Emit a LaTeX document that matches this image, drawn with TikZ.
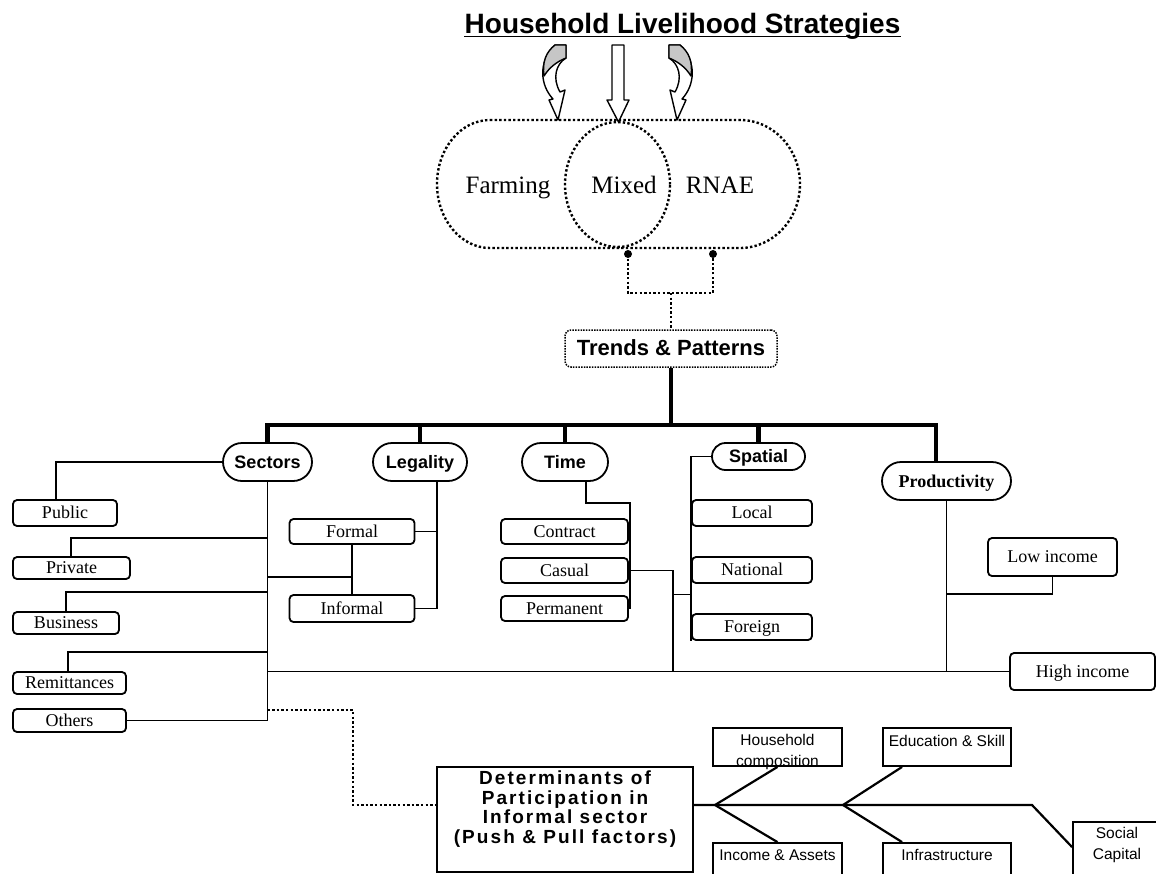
\documentclass[tikz,border=0pt]{standalone}
\usepackage{fontspec}
\setmainfont{Liberation Serif}
\setsansfont{Liberation Sans}
\newfontfamily\spacedsans[LetterSpace=11]{Liberation Sans}
\usetikzlibrary{calc,shapes.geometric,shapes.misc}
\newcommand\fsz[1]{\fontsize{#1}{#1}\selectfont}
\begin{document}
\begin{tikzpicture}[x=1pt,y=-1pt,
  ln/.style={line width=1.8pt},
  thk/.style={line width=4.5pt},
  dotl/.style={line width=2.4pt, dash pattern=on 2.4pt off 2.2pt},
  sbox/.style={draw, line width=1.8pt, rounded corners=4pt, inner sep=0pt, text height=13pt, text depth=1.5pt, font=\rmfamily\fsz{18}},
  oval/.style={draw, rounded rectangle, line width=1.8pt, inner sep=0pt, text height=14pt, text depth=2pt, font=\sffamily\bfseries\fsz{18}},
  fbx/.style={draw, line width=1.8pt, inner sep=0pt},
  ftext/.style={font=\sffamily\fontsize{15.5}{20.5}\selectfont, align=center, inner sep=0pt},
  bigtxt/.style={font=\rmfamily\fsz{25}, inner sep=0pt, anchor=base},
  twistarrow/.pic={
    \draw[line width=1.4pt, fill=white, line join=round] (0,0) -- (11,0) -- (11,13) .. controls (1,19) and (-3,33) .. (5,47) -- (10,45) -- (3,75) -- (-6,55) -- (-2,54) .. controls (-15,40) and (-17,17) .. (0,0) -- cycle;
    \draw[line width=1.4pt, fill=gray!45, line join=round] (0,0) -- (11,0) -- (11,13) .. controls (1,17) and (-6,23) .. (-11,31) .. controls (-13,17) and (-9,7) .. (0,0) -- cycle;
  }
]
\useasboundingbox (0,0) rectangle (1156,873);
\clip (0,0) rectangle (1156,873);
\fill[white] (0,0) rectangle (1156,873);

% ---------- title ----------
\node[font=\sffamily\bfseries\fsz{28}, anchor=base, inner sep=0pt] (title) at (682.5,33) {Household Livelihood Strategies};
\draw[line width=1.8pt] ($(title.base west)+(0,3.5)$) -- ($(title.base east)+(0,3.5)$);

% ---------- arrows ----------
\pic (la) at (555,45) {twistarrow};
\pic[xscale=-1] (ra) at (680,45) {twistarrow};
\draw[line width=1.4pt, fill=white, line join=round] (612,45) -- (624,45) -- (624,100) -- (629,100) -- (618.5,122) -- (607,100) -- (612,100) -- cycle;

% ---------- ellipses ----------
\draw[dotl] (490,120) -- (740,120) arc[start angle=-90,end angle=90,x radius=60,y radius=64] -- (490,248) arc[start angle=90,end angle=270,x radius=53,y radius=64] -- cycle;
\node[ellipse, draw, dotl, minimum width=105pt, minimum height=125pt, inner sep=0pt] (mixed) at (617.5,184.5) {};
\node[bigtxt] (farm) at (508,193) {Farming};
\node[bigtxt] (mixedt) at (624,193) {Mixed};
\node[bigtxt] (rnae) at (720,193) {RNAE};

\coordinate (d1) at (628,254);
\coordinate (d2) at (713,254);
\coordinate (dm) at (671,293);
\fill (d1) circle[radius=4];
\fill (d2) circle[radius=4];
\draw[dotl] (d1) -- (d1 |- dm) -- (d2 |- dm) -- (d2);

% ---------- trends ----------
\node[draw, line width=1.5pt, dash pattern=on 1.5pt off 1.2pt, rounded corners=6pt, minimum width=212pt, minimum height=37pt, inner sep=0pt, text height=16pt, text depth=2.5pt, font=\sffamily\bfseries\fsz{22}] (trends) at (671,348.5) {Trends \& Patterns};
\draw[dotl] (dm) -- (trends.north);

% ---------- category ovals ----------
\node[oval, minimum width=89pt, minimum height=38pt] (sectors) at (267.5,462) {Sectors};
\node[oval, minimum width=94pt, minimum height=38pt] (legality) at (420,462) {Legality};
\node[oval, minimum width=86pt, minimum height=38pt] (time) at (565,462) {Time};
\node[oval, minimum width=93pt, minimum height=27pt] (spatial) at (758.5,456.5) {Spatial};
\node[oval, minimum width=129pt, minimum height=38pt, font=\rmfamily\bfseries\fsz{18}] (productivity) at (946.5,481) {Productivity};

\coordinate (barL) at (267.5,425);
\coordinate (barR) at (936,425);
\draw[thk] (sectors.north) -- (barL) -- (barR) -- (barR |- productivity.north);
\draw[thk] (trends.south) -- (trends.south |- barL);
\draw[thk] (legality.north) -- (legality.north |- barL);
\draw[thk] (time.north) -- (time.north |- barL);
\draw[thk] (spatial.north) -- (spatial.north |- barL);

% ---------- sector boxes ----------
\node[sbox, minimum width=104pt, minimum height=26pt] (public) at (65,513) {Public};
\node[sbox, minimum width=117pt, minimum height=22pt] (private) at (71.5,568) {Private};
\node[sbox, minimum width=106pt, minimum height=22pt] (business) at (66,623) {Business};
\node[sbox, minimum width=113pt, minimum height=22pt] (remit) at (69.5,683) {Remittances};
\node[sbox, minimum width=113pt, minimum height=23pt] (others) at (69.5,720.5) {Others};

\coordinate (sp1) at (267.5,538);
\coordinate (sp2) at (267.5,577);
\coordinate (sp3) at (267.5,592);
\coordinate (sp4) at (267.5,652);
\coordinate (sp5) at (267.5,671.5);
\coordinate (sp6) at (267.5,710);
\coordinate (sp7) at (267.5,720.5);
\draw[ln] (sectors.west) -| ($(public.north west)+(44,0)$);
\draw[ln] (sectors.south) -- (sp7) -- (others.east);
\draw[ln] (sp1) -| ($(private.north west)+(59,0)$);
\draw[ln] (sp3) -| ($(business.north west)+(54,0)$);
\draw[ln] (sp4) -| ($(remit.north west)+(56,0)$);

% ---------- legality ----------
\node[sbox, minimum width=125pt, minimum height=25pt] (formal) at (352,531.5) {Formal};
\node[sbox, minimum width=125pt, minimum height=27pt] (informal) at (352,608.5) {Informal};
\coordinate (lv) at ($(legality.south)+(17,0)$);
\draw[ln] (sp2) -- (sp2 -| formal.south);
\draw[ln] (formal.south) -- (informal.north);
\draw[ln] (lv) |- (informal.east);
\draw[ln] (formal.east) -- (formal.east -| lv);

% ---------- time ----------
\node[sbox, minimum width=127pt, minimum height=25pt] (contract) at (564.5,531.5) {Contract};
\node[sbox, minimum width=127pt, minimum height=25pt] (casual) at (564.5,570.5) {Casual};
\node[sbox, minimum width=127pt, minimum height=25pt] (permanent) at (564.5,608.5) {Permanent};
\coordinate (tv) at (630,503);
\coordinate (tj) at (673,671.5);
\coordinate (sj) at (692,594);
\draw[ln] ($(time.south)+(21,0)$) |- (tv) -- (tv |- permanent.east);
\draw[ln] (casual.east) -| (tj);
\draw[line width=1pt] (tj |- sj) -- (sj);

% ---------- spatial ----------
\node[sbox, minimum width=120pt, minimum height=26pt] (local) at (752,513) {Local};
\node[sbox, minimum width=120pt, minimum height=26pt] (national) at (752,570) {National};
\node[sbox, minimum width=120pt, minimum height=26pt] (foreign) at (752,627) {Foreign};
\draw[ln] (spatial.west) -| (foreign.south west);

% ---------- productivity ----------
\node[sbox, minimum width=129pt, minimum height=38pt] (lowincome) at (1052.5,557) {Low income};
\node[sbox, minimum width=145pt, minimum height=37pt] (highincome) at (1082.5,671.5) {High income};
\coordinate (pj) at (946.5,594);
\draw[ln] (productivity.south) -- (productivity.south |- highincome.west);
\draw[ln] (lowincome.south) |- (pj);

% main lower line
\draw[ln] (sp5) -- (highincome.west);

% ---------- determinants ----------
\node[fbx, minimum width=256pt, minimum height=105pt] (det) at (565,819.5) {};
\node[font=\spacedsans\bfseries\fontsize{19}{19.7}\selectfont, align=center, inner sep=0pt] (dett) at (565,809) {Determinants of\\Participation in\\Informal sector\\(Push \& Pull factors)};
\coordinate (b1) at (715,805);
\coordinate (b2) at (843,805);
\coordinate (b3) at (1032,805);
\coordinate (dc) at (353,710);
\draw[dotl] (sp6) -- (dc) |- (det.west |- b1);

\node[fbx, minimum width=129pt, minimum height=38pt] (hh) at (777.5,747) {};
\node[ftext] (hht) at (777.5,752) {Household\\composition};
\node[fbx, minimum width=128pt, minimum height=38pt] (edu) at (947,747) {};
\node[ftext] (edut) at (947,741) {Education \& Skill};
\node[fbx, minimum width=129pt, minimum height=54pt] (inc) at (777.5,870) {};
\node[ftext] (inct) at (777.5,855) {Income \& Assets};
\node[fbx, minimum width=128pt, minimum height=54pt] (infra) at (947,870) {};
\node[ftext] (infrat) at (947,855) {Infrastructure};
\node[fbx, minimum width=98pt, minimum height=72pt] (social) at (1122,858) {};
\node[ftext] (socialt) at (1117,845) {Social\\Capital};

\draw[line width=2.2pt] (det.east |- b1) -- (b3) -- ($(social.north west)+(0,26)$);
\draw[line width=2.2pt] (hh.south) -- (b1) -- (inc.north);
\draw[line width=2.2pt] ($(edu.south west)+(20,0)$) -- (b2) -- ($(infra.north west)+(20,0)$);
\end{tikzpicture}
\end{document}
